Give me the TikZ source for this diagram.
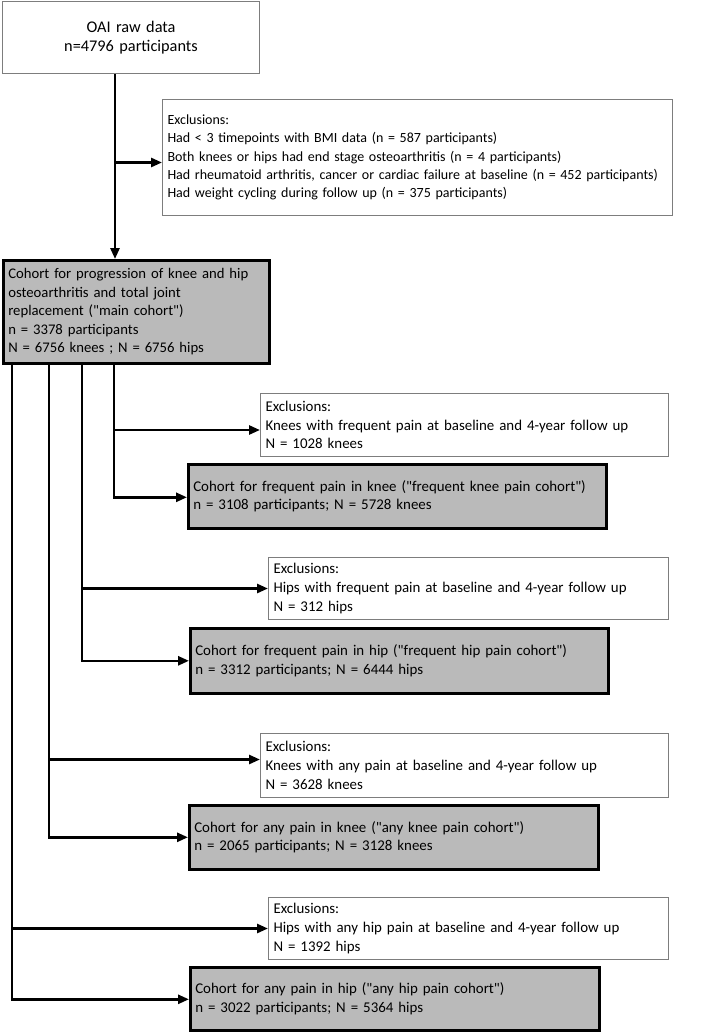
\documentclass[tikz,border=0pt]{standalone}
\usepackage{fontspec}
\setmainfont{Carlito}[Ligatures=TeXOff]
\usetikzlibrary{arrows.meta}
\definecolor{boxgray}{RGB}{186,186,186}
\definecolor{thinedge}{RGB}{125,125,125}
\begin{document}
\begin{tikzpicture}[x=1pt,y=-1pt,
  txt/.style={font=\fontsize{14.9}{18.7}\selectfont, inner xsep=5pt, inner ysep=2pt, anchor=north west},
  thinbox/.style={txt, draw=thinedge, line width=1pt, fill=white, align=left},
  cohort/.style={txt, draw=black, line width=2.6pt, fill=boxgray, align=left},
  conn/.style={line width=2.6pt, draw=black},
  arr/.style={conn, -{Triangle[length=11pt,width=9pt]}}]
\useasboundingbox (0,0) rectangle (708,1033);
% boxes
\node[thinbox, align=center, minimum width=257pt, minimum height=72pt, text width=247pt,
      font=\fontsize{16.3}{19}\selectfont] (top) at (2,1)
  {OAI raw data\\ n=4796 participants};
\node[thinbox, minimum width=510pt, minimum height=116pt, text width=500pt,
      font=\fontsize{14}{18.4}\selectfont] (e1) at (162,99)
  {Exclusions:\\
   Had < 3 timepoints with BMI data (n = 587 participants)\\
   Both knees or hips had end stage osteoarthritis (n = 4 participants)\\
   Had rheumatoid arthritis, cancer or cardiac failure at baseline (n = 452 participants)\\
   Had weight cycling during follow up (n = 375 participants)};
\node[cohort, minimum width=266pt, minimum height=103pt, text width=256pt,
      font=\fontsize{14.7}{18.6}\selectfont] (main) at (2,259)
  {Cohort for progression of knee and hip\\ osteoarthritis and total joint\\ replacement ("main cohort")\\ n = 3378 participants\\ N = 6756 knees ; N = 6756 hips};
\node[thinbox, minimum width=408pt, minimum height=63pt, text width=398pt] (e2) at (260,393)
  {Exclusions:\\ Knees with frequent pain at baseline and 4-year follow up\\ N = 1028 knees};
\node[cohort, minimum width=418pt, minimum height=64pt, text width=408pt] (c2) at (187,463)
  {Cohort for frequent pain in knee ("frequent knee pain cohort")\\ n = 3108 participants; N = 5728 knees};
\node[thinbox, minimum width=400pt, minimum height=62pt, text width=390pt] (e3) at (268,557)
  {Exclusions:\\ Hips with frequent pain at baseline and 4-year follow up\\ N = 312 hips};
\node[cohort, minimum width=418pt, minimum height=65pt, text width=408pt] (c3) at (189,627)
  {Cohort for frequent pain in hip ("frequent hip pain cohort")\\ n = 3312 participants; N = 6444 hips};
\node[thinbox, minimum width=408pt, minimum height=64pt, text width=398pt] (e4) at (260,733)
  {Exclusions:\\ Knees with any pain at baseline and 4-year follow up\\ N = 3628 knees};
\node[cohort, minimum width=409pt, minimum height=64pt, text width=399pt] (c4) at (188,804)
  {Cohort for any pain in knee ("any knee pain cohort")\\ n = 2065 participants; N = 3128 knees};
\node[thinbox, minimum width=400pt, minimum height=62pt, text width=390pt] (e5) at (268,897)
  {Exclusions:\\ Hips with any hip pain at baseline and 4-year follow up\\ N = 1392 hips};
\node[cohort, minimum width=409pt, minimum height=63pt, text width=399pt] (c5) at (189,966)
  {Cohort for any pain in hip ("any hip pain cohort")\\ n = 3022 participants; N = 5364 hips};
% trunk start points
\coordinate (s1) at ([xshift=113pt]top.south west);
\coordinate (t1) at ([xshift=112pt]main.south west);
\coordinate (t2) at ([xshift=80pt]main.south west);
\coordinate (t3) at ([xshift=47pt]main.south west);
\coordinate (t4) at ([xshift=10pt]main.south west);
% connectors
\draw[arr] (s1) -- (s1 |- main.north);
\draw[arr] (s1 |- e1.west) ++(0,5) -- ([yshift=-5pt]e1.west);
\draw[arr] (t1) |- ([yshift=-1pt]c2.west);
\draw[arr] (t1 |- e2.west) ++(0,5) -- ([yshift=-5pt]e2.west);
\draw[arr] (t2) |- (c3.west);
\draw[arr] (t2 |- e3.west) -- (e3.west);
\draw[arr] (t3) |- (c4.west);
\draw[arr] (t3 |- e4.west) ++(0,-6) -- ([yshift=6pt]e4.west);
\draw[arr] (t4) |- ([yshift=-0.5pt]c5.west);
\draw[arr] (t4 |- e5.west) -- (e5.west);
\end{tikzpicture}
\end{document}
